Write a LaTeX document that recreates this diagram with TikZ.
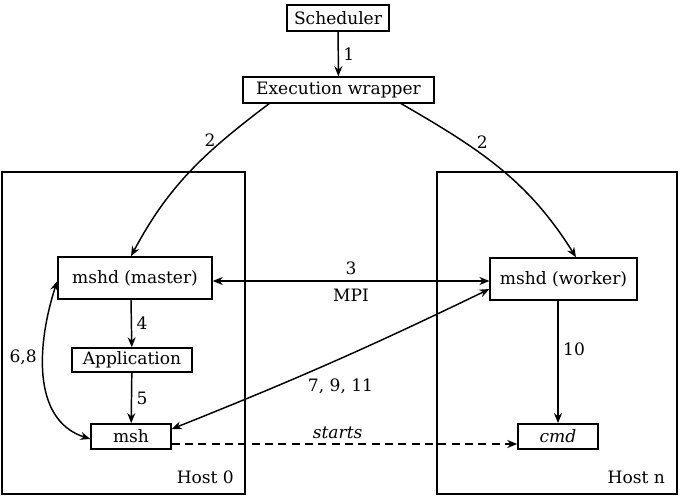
\documentclass[tikz,border=0pt]{standalone}
\usepackage{fontspec}
\setmainfont{DejaVu Serif}
\usepackage{tikz}
\usetikzlibrary{arrows.meta, positioning, calc}

\begin{document}
\begin{tikzpicture}[x=0.75pt, y=-0.75pt, line width=1.1pt,
    >={Stealth[length=7.5pt, width=6pt]},
    proc/.style={draw, rectangle, inner sep=0pt, font=\fontsize{12.8}{15}\selectfont},
    lbl/.style={font=\fontsize{12.8}{15}\selectfont}]
  \useasboundingbox (0,0) rectangle (680,496);

  % hosts
  \draw (2,172) rectangle (245,494);
  \draw (437,172) rectangle (677,494);
  \node[lbl, anchor=east] (h0) at (239,477) {Host 0};
  \node[lbl, anchor=east] (hn) at (670,477) {Host n};

  % top of the chain
  \node[proc, minimum width=76.5pt, minimum height=19.5pt] (sched) at (338,18) {Scheduler};
  \node[proc, minimum width=143pt, minimum height=19.5pt] (wrap) at (338.5,90) {Execution wrapper};

  % host 0
  \node[proc, minimum width=115.5pt, minimum height=31.5pt] (master) at (135,278) {mshd (master)};
  \node[proc, minimum width=90pt, minimum height=18pt] (app) at (132,360) {Application};
  \node[proc, minimum width=60pt, minimum height=19pt] (msh) at (131,436.5) {msh};

  % host n
  \node[proc, minimum width=110pt, minimum height=31.5pt] (worker) at (563.5,279) {mshd (worker)};
  \node[proc, minimum width=60pt, minimum height=19pt] (cmd) at (558,436.5) {\itshape cmd};

  % calls
  \draw[->] (sched) -- node[lbl, right] {1} (wrap);
  \coordinate (wl) at (270,103);
  \coordinate (wr) at (400,103);
  \draw[->] (wl) to[out=-143, in=62] node[lbl, pos=0.27, left=2pt] {2} (master.north -| 131,0);
  \draw[->] (wr) to[out=-30, in=122] node[lbl, pos=0.3, right=6pt] {2} (worker.north -| 576,0);
  \draw[<->] (master.east |- 0,281) -- node[lbl, above=1pt] {3} node[lbl, below=2pt] {MPI} (worker.west |- 0,281);
  \draw[->] (master.south -| 131,0) -- node[lbl, right] {4} (app);
  \draw[->] (app) -- node[lbl, right] {5} (msh);
  \draw[->] (worker.south -| 558,0) -- node[lbl, right, pos=0.4] {10} (cmd);
  \draw[<->] (msh.west |- 0,439) to[out=162, in=-108] node[lbl, pos=0.6, left=1pt] {6,8} (master.west |- 0,281);
  \draw[<->] (msh.east |- 0,429) to[bend right=2] node[lbl, pos=0.4, anchor=north west, yshift=1pt] {7, 9, 11} (worker.west |- 0,289);
  \draw[->, dashed, dash pattern=on 6pt off 4pt] (msh.east |- 0,444) -- node[lbl, above, pos=0.48] {\itshape starts} (cmd.west |- 0,444);
\end{tikzpicture}
\end{document}
